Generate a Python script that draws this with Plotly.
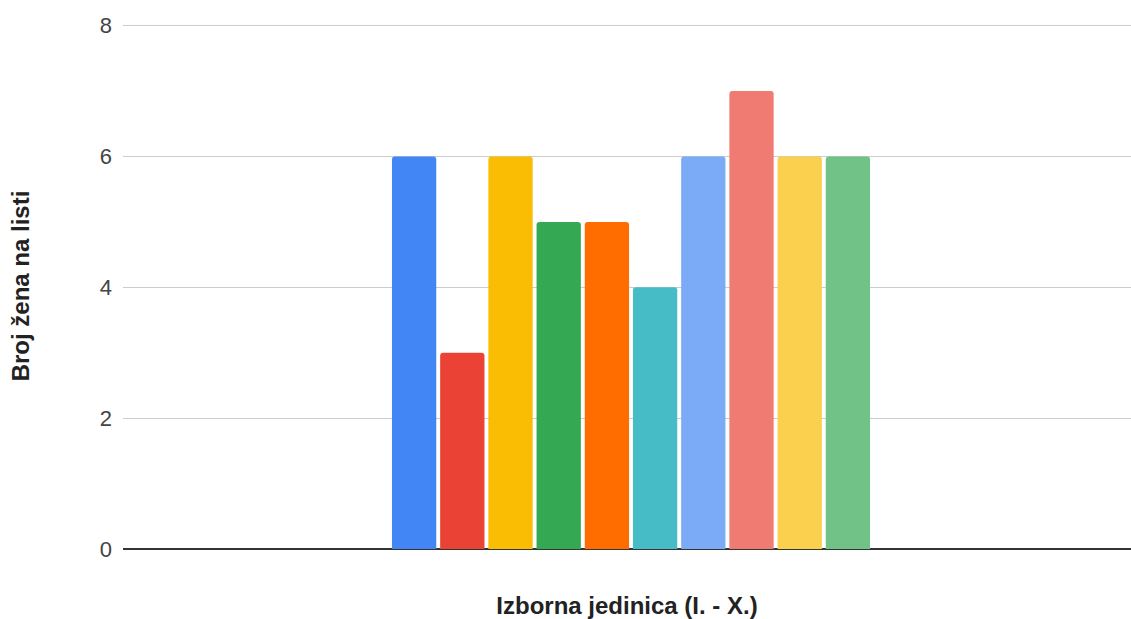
import plotly.graph_objects as go

categories = [""]
series_names = ["I.", "II.", "III.", "IV.", "V.", "VI.", "VII.", "VIII.", "IX.", "X."]
values = [6, 3, 6, 5, 5, 4, 6, 7, 6, 6]
colors = ["#4285F4", "#EA4335", "#FBBC04", "#34A853", "#FF6D01",
          "#46BDC6", "#7BAAF7", "#F07B72", "#FCD04F", "#71C287"]
y_ticks = [0, 2, 4, 6, 8]

fig = go.Figure()
for name, v, c in zip(series_names, values, colors):
    fig.add_trace(go.Bar(x=categories, y=[v], name=name,
                         marker=dict(color=c, line=dict(width=0), cornerradius=3)))

fig.update_layout(
    width=1131, height=619,
    barmode="group", bargap=0.5256, bargroupgap=0.081,
    showlegend=False,
    plot_bgcolor="white", paper_bgcolor="white",
    margin=dict(l=123, r=0, t=23, b=70),
    font=dict(family="Arial, Liberation Sans, sans-serif", color="#444"),
    xaxis=dict(showticklabels=False, showgrid=False, ticks="", automargin=False,
               range=[-0.5, 0.4921],
               title=dict(text="<b>Izborna jedinica (I. - X.)</b>",
                          font=dict(size=24, color="#222"), standoff=55)),
    yaxis=dict(range=[0, 8.04], tickvals=y_ticks, gridcolor="#cccccc", gridwidth=1,
               zeroline=True, zerolinecolor="#333333", zerolinewidth=1.5,
               automargin=False,
               tickfont=dict(size=22, color="#444"), ticklabelstandoff=10,
               title=dict(text="<b>Broj žena na listi</b>",
                          font=dict(size=24, color="#222"), standoff=63)),
)
fig.write_html("out.html", config={"displayModeBar": False},
               post_script="document.body.style.margin='0';document.body.style.overflow='hidden';")
